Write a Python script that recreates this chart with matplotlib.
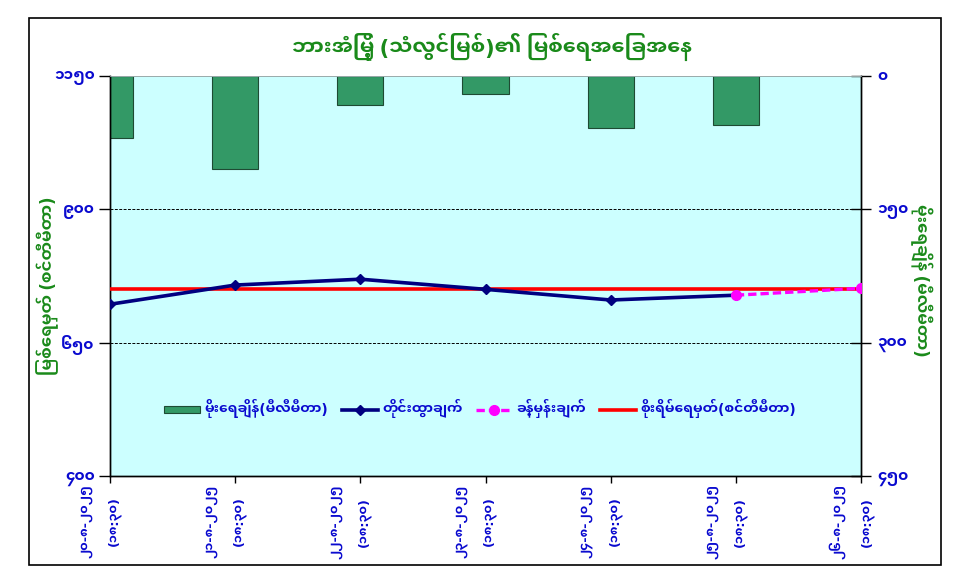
import matplotlib
matplotlib.use("Agg")
import numpy as np
import matplotlib.pyplot as plt
import matplotlib.transforms as mtransforms
from matplotlib import font_manager as fm
from matplotlib.patches import Rectangle
from matplotlib.lines import Line2D

# ---------------- fonts ----------------
base = "/usr/share/fonts/truetype/google-fonts/"
for f in ["NotoSansMyanmarUI-Regular.ttf", "NotoSansMyanmarUI-Bold.ttf"]:
    try:
        fm.fontManager.addfont(base + f)
    except Exception:
        pass
FAM = ["Noto Sans Myanmar UI", "DejaVu Sans"]
plt.rcParams["font.family"] = FAM
plt.rcParams["font.weight"] = "bold"


def visual(s):
    """Reorder Myanmar pre-base vowel/medial to visual order (no shaping engine)."""
    out = []
    start = 0
    for ch in s:
        o = ord(ch)
        if (0x1000 <= o <= 0x102A) or o == 0x103F:
            start = len(out)
            out.append(ch)
        elif o == 0x1031 or o == 0x103C:
            out.insert(start, ch)
        else:
            out.append(ch)
    return "".join(out)

# ---------------- data ----------------
title = "ဘားအံမြို့ (သံလွင်မြစ်)၏ မြစ်ရေအခြေအနေ"
left_label = "မြစ်ရေမှတ် (စင်တီမီတာ)"
right_label = "မိုးရေချိန် (မီလီမီတာ)"
dates = ["၂၀-၈-၂၀၂၅", "၂၁-၈-၂၀၂၅", "၂၂-၈-၂၀၂၅", "၂၃-၈-၂၀၂၅",
         "၂၄-၈-၂၀၂၅", "၂၅-၈-၂၀၂၅", "၂၆-၈-၂၀၂၅"]
times = ["(၁၈:၃၀)"] * 7
rain_mm = [70, 105, 33, 20, 59, 55, np.nan]
measured_cm = [722, 758, 769, 750, 730, 739, np.nan]
forecast_cm = [np.nan, np.nan, np.nan, np.nan, np.nan, 739, 752]
danger_cm = [750, 750, 750, 750, 750, 750, 750]
left_ticks = [400, 650, 900, 1150]
left_tick_labels = ["၄၀၀", "၆၅၀", "၉၀၀", "၁၁၅၀"]
right_ticks = [0, 150, 300, 450]
right_tick_labels = ["၀", "၁၅၀", "၃၀၀", "၄၅၀"]
legend_labels = ["မိုးရေချိန်(မီလီမီတာ)", "တိုင်းထွာချက်", "ခန့်မှန်းချက်",
                 "စိုးရိမ်ရေမှတ်(စင်တီမီတာ)"]

BLUE = "#0A0ACF"
GREEN = "#1A8A1A"

# ---------------- figure ----------------
W, H = 973, 578
fig = plt.figure(figsize=(W / 100, H / 100), dpi=100)
fig.patch.set_facecolor("white")

L, R, T, B = 110, 861, 76, 476
ax2 = fig.add_axes([L / W, 1 - B / H, (R - L) / W, (B - T) / H])
ax = ax2.twinx()  # same box; ax2 carries bars (right scale), ax carries lines (left scale)

# rain bars on right axis (inverted)
x = np.arange(len(dates))
ax2.set_facecolor("#CCFFFF")
ax2.bar(x, rain_mm, width=0.37, color="#339966", edgecolor="#1E4A33", linewidth=0.8, zorder=2)
ax2.set_ylim(450, 0)
ax2.set_xlim(0, len(dates) - 1)

# lines on the left axis
ax.set_ylim(400, 1150)
for yv in [650, 900]:
    ax.axhline(yv, color="black", lw=0.7, ls=(0, (3, 1.5)), zorder=1)
ax.plot(x, danger_cm, color="#FF0000", lw=2.6, zorder=3)
ax.plot(x, measured_cm, color="#000080", lw=2.6, marker="D", ms=5.5, zorder=4)
ax.plot(x, forecast_cm, color="#FF00FF", lw=2.4, ls=(0, (2.5, 1.2)), marker="o", ms=7, zorder=5)

# left scale on left, rain on right
ax.yaxis.set_label_position("left")
ax.yaxis.tick_left()
ax2.yaxis.tick_right()
ax.set_yticks(left_ticks)
ax.set_yticklabels([visual(s) for s in left_tick_labels])
ax2.set_yticks(right_ticks)
ax2.set_yticklabels([visual(s) for s in right_tick_labels])

ax.tick_params(axis="y", direction="out", length=8, width=1, pad=3,
               labelsize=11, labelcolor=BLUE)
ax2.tick_params(axis="y", direction="inout", length=14, width=1, pad=5,
                labelsize=11, labelcolor=BLUE)
ax2.set_xticks(x)
ax2.set_xticklabels([visual(d) + "\n" + visual(t) for d, t in zip(dates, times)],
                    rotation=90, ha="center", va="top", multialignment="center",
                    linespacing=2.5)
ax2.tick_params(axis="x", direction="out", length=5, width=1, pad=1,
                labelsize=9.2, labelcolor=BLUE)
ax.tick_params(axis="x", bottom=False, labelbottom=False)
shift = mtransforms.ScaledTranslation(-10 / 100, 0, fig.dpi_scale_trans)
for lab in ax2.get_xticklabels():
    lab.set_transform(lab.get_transform() + shift)

for a in (ax, ax2):
    a.spines["top"].set_color("#9AAAAA")
    a.spines["top"].set_linewidth(0.6)
    for s in ("left", "right", "bottom"):
        a.spines[s].set_color("black")
        a.spines[s].set_linewidth(1.0)

# legend
handles = [Rectangle((0, 0), 1, 1, facecolor="#339966", edgecolor="#1E4A33", lw=0.8),
           Line2D([], [], color="#000080", lw=2.6, marker="D", ms=5.5),
           Line2D([], [], color="#FF00FF", lw=2.4, ls=(0, (2.5, 1.2)), marker="o", ms=7),
           Line2D([], [], color="#FF0000", lw=2.6)]
leg = ax.legend(handles, [visual(s) for s in legend_labels], loc="center",
                bbox_to_anchor=((480 - L) / (R - L), (B - 409) / (B - T)),
                ncol=4, frameon=False, fontsize=10, labelcolor=BLUE,
                handlelength=2.6, handleheight=0.45, handletextpad=0.3,
                columnspacing=1.0)

# titles / axis labels
fig.text(492 / W, 1 - 47 / H, visual(title), ha="center", va="center",
         fontsize=15, color=GREEN, fontweight="bold")
fig.text(48 / W, 1 - 286 / H, visual(left_label), ha="center", va="center",
         rotation=90, fontsize=12, color=GREEN, fontweight="bold")
fig.text(921 / W, 1 - 280 / H, visual(right_label), ha="center", va="center",
         rotation=-90, fontsize=12, color=GREEN, fontweight="bold")

# outer chart border
fig.patches.append(Rectangle((29 / W, 1 - 565 / H), (941 - 29) / W, (565 - 18) / H,
                             transform=fig.transFigure, fill=False,
                             edgecolor="black", lw=1.2))

fig.savefig("out.png", dpi=100)
